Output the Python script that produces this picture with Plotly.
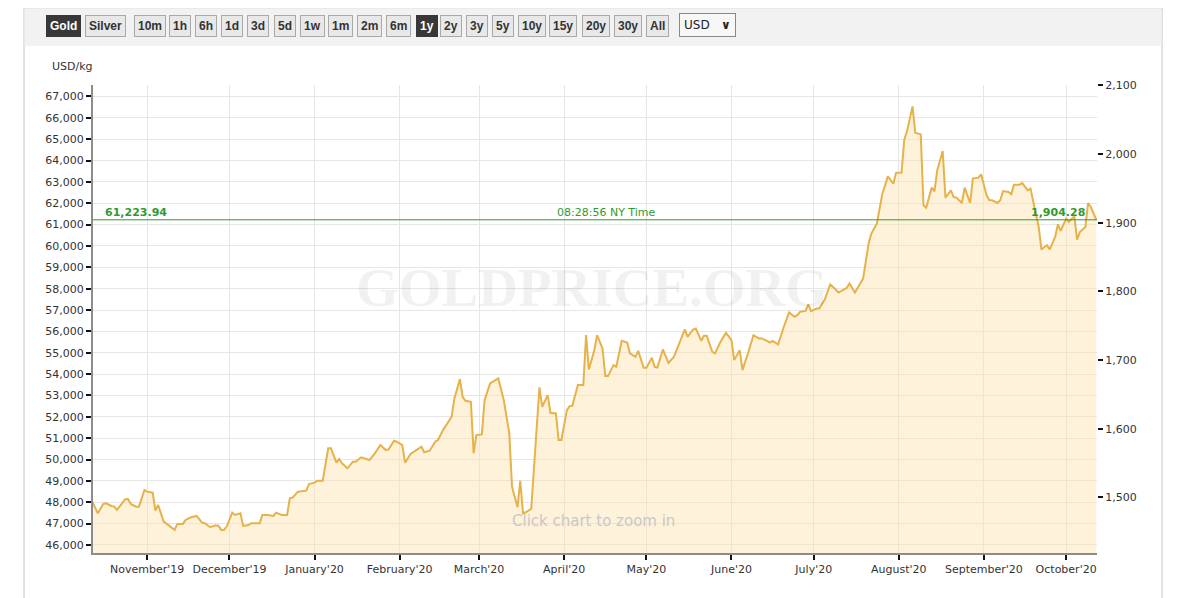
import plotly.graph_objects as go

# ---------------- data ----------------
dates = [
    "2019-10-12", "2019-10-14", "2019-10-16", "2019-10-17", "2019-10-19", "2019-10-20", "2019-10-21",
    "2019-10-24", "2019-10-25", "2019-10-26", "2019-10-28", "2019-10-29", "2019-10-31",
    "2019-11-01", "2019-11-03", "2019-11-04", "2019-11-05", "2019-11-07", "2019-11-09", "2019-11-11",
    "2019-11-12", "2019-11-14", "2019-11-15", "2019-11-17", "2019-11-19", "2019-11-21", "2019-11-22",
    "2019-11-24", "2019-11-26", "2019-11-27", "2019-11-28", "2019-11-29", "2019-11-30",
    "2019-12-02", "2019-12-03", "2019-12-05", "2019-12-06", "2019-12-08", "2019-12-09", "2019-12-12",
    "2019-12-13", "2019-12-15", "2019-12-17", "2019-12-18", "2019-12-20", "2019-12-22", "2019-12-23",
    "2019-12-24", "2019-12-26", "2019-12-28", "2019-12-29", "2019-12-30",
    "2020-01-01", "2020-01-02", "2020-01-04", "2020-01-06", "2020-01-07", "2020-01-09", "2020-01-10",
    "2020-01-11", "2020-01-13", "2020-01-15", "2020-01-16", "2020-01-18", "2020-01-19", "2020-01-21",
    "2020-01-23", "2020-01-25", "2020-01-27", "2020-01-28", "2020-01-30", "2020-01-31",
    "2020-02-02", "2020-02-03", "2020-02-05", "2020-02-07", "2020-02-09", "2020-02-10", "2020-02-12",
    "2020-02-14", "2020-02-15", "2020-02-17", "2020-02-20", "2020-02-21", "2020-02-23", "2020-02-24",
    "2020-02-25", "2020-02-27", "2020-02-28", "2020-02-29",
    "2020-03-02", "2020-03-03", "2020-03-05", "2020-03-08", "2020-03-10", "2020-03-12", "2020-03-13",
    "2020-03-15", "2020-03-16", "2020-03-17", "2020-03-18", "2020-03-20", "2020-03-23", "2020-03-24",
    "2020-03-26", "2020-03-27", "2020-03-29", "2020-03-30", "2020-03-31",
    "2020-04-02", "2020-04-03", "2020-04-04", "2020-04-06", "2020-04-08", "2020-04-09", "2020-04-10",
    "2020-04-12", "2020-04-13", "2020-04-14", "2020-04-15", "2020-04-16", "2020-04-17", "2020-04-19",
    "2020-04-20", "2020-04-22", "2020-04-24", "2020-04-25", "2020-04-27", "2020-04-28", "2020-04-30",
    "2020-05-01", "2020-05-03", "2020-05-04", "2020-05-05", "2020-05-07", "2020-05-09", "2020-05-11",
    "2020-05-13", "2020-05-15", "2020-05-16", "2020-05-18", "2020-05-19", "2020-05-21", "2020-05-22",
    "2020-05-23", "2020-05-25", "2020-05-26", "2020-05-28", "2020-05-30",
    "2020-06-01", "2020-06-02", "2020-06-04", "2020-06-05", "2020-06-07", "2020-06-09", "2020-06-11",
    "2020-06-12", "2020-06-14", "2020-06-15", "2020-06-16", "2020-06-18", "2020-06-20", "2020-06-22",
    "2020-06-24", "2020-06-25", "2020-06-26", "2020-06-28", "2020-06-29", "2020-06-30",
    "2020-07-02", "2020-07-03", "2020-07-05", "2020-07-07", "2020-07-09", "2020-07-10", "2020-07-13",
    "2020-07-14", "2020-07-16", "2020-07-18", "2020-07-19", "2020-07-21", "2020-07-22", "2020-07-24",
    "2020-07-26", "2020-07-27", "2020-07-28", "2020-07-30", "2020-07-31",
    "2020-08-02", "2020-08-03", "2020-08-04", "2020-08-06", "2020-08-07", "2020-08-09", "2020-08-10",
    "2020-08-11", "2020-08-13", "2020-08-14", "2020-08-15", "2020-08-17", "2020-08-18", "2020-08-20",
    "2020-08-21", "2020-08-22", "2020-08-24", "2020-08-25", "2020-08-27", "2020-08-28", "2020-08-30",
    "2020-08-31",
    "2020-09-02", "2020-09-03", "2020-09-04", "2020-09-06", "2020-09-07", "2020-09-08", "2020-09-10",
    "2020-09-11", "2020-09-12", "2020-09-14", "2020-09-15", "2020-09-17", "2020-09-18", "2020-09-20",
    "2020-09-21", "2020-09-22", "2020-09-24", "2020-09-25", "2020-09-27", "2020-09-28", "2020-09-29",
    "2020-10-01", "2020-10-02", "2020-10-04", "2020-10-05", "2020-10-06", "2020-10-08", "2020-10-09",
    "2020-10-10", "2020-10-12",
]

usd_per_kg = [
    48025, 47482, 47918, 47950, 47824, 47793, 47637,
    48138, 48152, 47918, 47793, 47793, 48573,
    48494, 48447, 47605, 47871, 47090, 46903, 46702,
    46983, 46983, 47170, 47295, 47356, 47043, 47015,
    46828, 46921, 46889, 46702, 46702, 46858,
    47513, 47404, 47482, 46889, 46935, 47015, 47015,
    47404, 47404, 47356, 47513, 47404, 47404, 48184,
    48215, 48494, 48526, 48542, 48853,
    48914, 49007, 49007, 50523, 50523, 49850, 50022,
    49821, 49587, 49896, 49896, 50102, 50055, 49976,
    50289, 50677, 50443, 50474, 50879, 50832,
    50677, 49850, 50256, 50410, 50598, 50336, 50410,
    50832, 50911, 51411, 52001, 52861, 53764, 52936,
    52749, 52702, 50289, 51145,
    51176, 52782, 53563, 53797, 52782, 51225, 48727,
    47764, 49007, 47483, 47530, 47684, 53376, 52469,
    53016, 52188, 52157, 50911, 50911,
    52314, 52501, 52517, 53483, 53483, 55822, 54218,
    55120, 55822, 55509, 55200, 53904, 53904, 54419,
    54339, 55556, 55478, 54966, 54807, 55088, 54293,
    54293, 54760, 54339, 54308, 55153, 54527, 54807,
    55481, 56088, 55742, 56088, 56135, 55556, 55789,
    55789, 55041, 54966, 55509, 55930,
    55588, 54653, 55120, 54185, 54966, 55822, 55668,
    55668, 55556, 55478, 55556, 55387, 56182, 56884,
    56678, 56757, 56912, 56959, 57258, 56944,
    57070, 57070, 57492, 58193, 57959, 57819, 58034,
    58240, 57819, 58240, 58474, 60111, 60579, 61046,
    62449, 62837, 63258, 62917, 63431,
    63431, 64975, 65377, 66532, 65302, 65223, 61902,
    61794, 62730, 62557, 63539, 64442, 62262, 62604,
    62290, 62262, 62010, 62730, 62010, 63151, 63198,
    63352,
    62370, 62136, 62136, 62010, 62136, 62571, 62526,
    62417, 62870, 62870, 62945, 62604, 62683, 61514,
    60887, 59830, 60031, 59830, 60419, 61013, 60700,
    61280, 61121, 61388, 60298, 60653, 60887, 62010,
    61823, 61223.94,
]

last_price_kg = 61223.94
last_price_label_kg = "61,223.94"
last_price_label_oz = "1,904.28"
time_label = "08:28:56 NY Time"
oz_per_kg = 32.1507

month_ticks = ["2019-11-01", "2019-12-01", "2020-01-01", "2020-02-01", "2020-03-01", "2020-04-01",
               "2020-05-01", "2020-06-01", "2020-07-01", "2020-08-01", "2020-09-01", "2020-10-01"]
month_labels = ["November'19", "December'19", "January'20", "February'20", "March'20", "April'20",
                "May'20", "June'20", "July'20", "August'20", "September'20", "October'20"]

kg_ticks = list(range(46000, 67001, 1000))
oz_ticks = list(range(1500, 2101, 100))

button_labels = ["Gold", "Silver", "10m", "1h", "6h", "1d", "3d", "5d", "1w", "1m", "2m", "6m",
                 "1y", "2y", "3y", "5y", "10y", "15y", "20y", "30y", "All"]
active_buttons = ["Gold", "1y"]

# ---------------- layout geometry (page pixels) ----------------
OFF = 8                      # default page body margin
W, H = 1180 - OFF, 598 - OFF  # figure size
L, R, T, B = 93, 1097, 85, 553  # plot area in page pixels


def px(x):
    return (x - L) / (R - L)


def py(y):
    return (B - y) / (B - T)


oz_range = [1419.0, 2100.6]
kg_range = [v * oz_per_kg for v in oz_range]

FONT = "DejaVu Sans"
GOLD = "#e6b24a"
GREEN = "#2f9a2f"

fig = go.Figure()
fig.add_trace(go.Scatter(
    x=dates, y=usd_per_kg, mode="lines",
    line=dict(color=GOLD, width=2),
    fill="tozeroy", fillcolor="rgba(252,226,175,0.45)",
    hoverinfo="skip", showlegend=False,
))
fig.add_trace(go.Scatter(
    x=dates, y=[v / oz_per_kg for v in usd_per_kg], mode="lines",
    line=dict(color="rgba(0,0,0,0)", width=0),
    yaxis="y2", hoverinfo="skip", showlegend=False,
))

shapes = [
    dict(type="rect", xref="paper", yref="paper", x0=px(24), x1=px(1162), y0=py(640), y1=py(8),
         line=dict(color="#c4c4c4", width=1), fillcolor="rgba(0,0,0,0)", layer="below"),
    dict(type="rect", xref="paper", yref="paper", x0=px(24.5), x1=px(1161.5), y0=py(46), y1=py(8.5),
         line=dict(width=0), fillcolor="#f2f2f2", layer="below"),
    dict(type="line", xref="paper", yref="y", x0=0, x1=1, y0=last_price_kg, y1=last_price_kg,
         line=dict(color=GREEN, width=1)),
]

annotations = []
button_centers = [63.5, 105.5, 150, 180, 206, 232, 258, 284.5, 312, 340, 369.5, 398.5,
                  426.5, 451, 477, 503, 531.5, 563, 595.5, 628, 657.5]
for lab, cx in zip(button_labels, button_centers):
    active = lab in active_buttons
    annotations.append(dict(
        text="<b>" + lab + "</b>", xref="paper", yref="paper", x=px(cx), y=py(25.5), showarrow=False,
        xanchor="center", yanchor="middle",
        font=dict(family="Liberation Sans", size=12, color="white" if active else "#333"),
        bgcolor="#383838" if active else "#e8e8e8",
        bordercolor="#383838" if active else "#a9a9a9", borderwidth=1, borderpad=3,
    ))
annotations.append(dict(
    text="USD   <b>∨</b>", xref="paper", yref="paper", x=px(707), y=py(25), showarrow=False,
    xanchor="center", yanchor="middle", font=dict(family="DejaVu Sans", size=12, color="#222"),
    bgcolor="#f7f7f7", bordercolor="#888", borderwidth=1, borderpad=4,
))
annotations.append(dict(
    text="USD/kg", xref="paper", yref="paper", x=px(50), y=py(67), showarrow=False,
    xanchor="left", yanchor="middle", font=dict(family=FONT, size=11, color="#333"),
))
annotations.append(dict(
    text="<b>GOLDPRICE.ORG</b>", xref="paper", yref="paper", x=px(592), y=py(287), showarrow=False,
    xanchor="center", yanchor="middle",
    font=dict(family="Liberation Serif", size=55, color="rgba(0,0,0,0.055)"),
))
annotations.append(dict(
    text="Click chart to zoom in", xref="paper", yref="paper", x=px(593), y=py(521), showarrow=False,
    xanchor="center", yanchor="middle",
    font=dict(family=FONT, size=15, color="#c8c8c8"),
))
annotations.append(dict(
    text="<b>" + last_price_label_kg + "</b>", xref="paper", yref="y", x=px(103), y=last_price_kg,
    yshift=7, showarrow=False, xanchor="left", yanchor="middle",
    font=dict(family=FONT, size=11, color=GREEN),
))
annotations.append(dict(
    text=time_label, xref="paper", yref="y", x=px(606), y=last_price_kg,
    yshift=7, showarrow=False, xanchor="center", yanchor="middle",
    font=dict(family=FONT, size=11, color=GREEN),
))
annotations.append(dict(
    text="<b>" + last_price_label_oz + "</b>", xref="paper", yref="y", x=px(1087), y=last_price_kg,
    yshift=7, showarrow=False, xanchor="right", yanchor="middle",
    font=dict(family=FONT, size=11, color=GREEN),
))

fig.update_layout(
    width=W, height=H,
    margin=dict(l=L - OFF, r=(W + OFF) - R, t=T - OFF, b=(H + OFF) - B, pad=0),
    paper_bgcolor="white", plot_bgcolor="white",
    font=dict(family=FONT, size=11, color="#333"),
    showlegend=False,
    shapes=shapes,
    annotations=annotations,
    xaxis=dict(
        type="date", range=["2019-10-12 06:00", "2020-10-12 06:00"],
        tickvals=month_ticks, ticktext=month_labels,
        showgrid=True, gridcolor="#e6e6e6", gridwidth=1,
        ticks="outside", ticklen=5, tickwidth=2, tickcolor="#111",
        showline=True, linecolor="#8c8c8c", linewidth=2,
        tickfont=dict(family=FONT, size=11, color="#333"),
        zeroline=False, fixedrange=True,
    ),
    yaxis=dict(
        range=kg_range, tickvals=kg_ticks, tickformat=",d",
        showgrid=True, gridcolor="#e6e6e6", gridwidth=1,
        ticks="outside", ticklen=5, tickwidth=2, tickcolor="#111",
        showline=True, linecolor="#8c8c8c", linewidth=2,
        tickfont=dict(family=FONT, size=11, color="#333"),
        zeroline=False, fixedrange=True,
    ),
    yaxis2=dict(
        overlaying="y", side="right", range=oz_range, tickvals=oz_ticks, tickformat=",d",
        showgrid=False, ticks="outside", ticklen=5, tickwidth=2, tickcolor="#111",
        showline=False, zeroline=False,
        tickfont=dict(family=FONT, size=11, color="#333"), fixedrange=True,
    ),
)

fig.write_html("out.html", config={"displayModeBar": False})
